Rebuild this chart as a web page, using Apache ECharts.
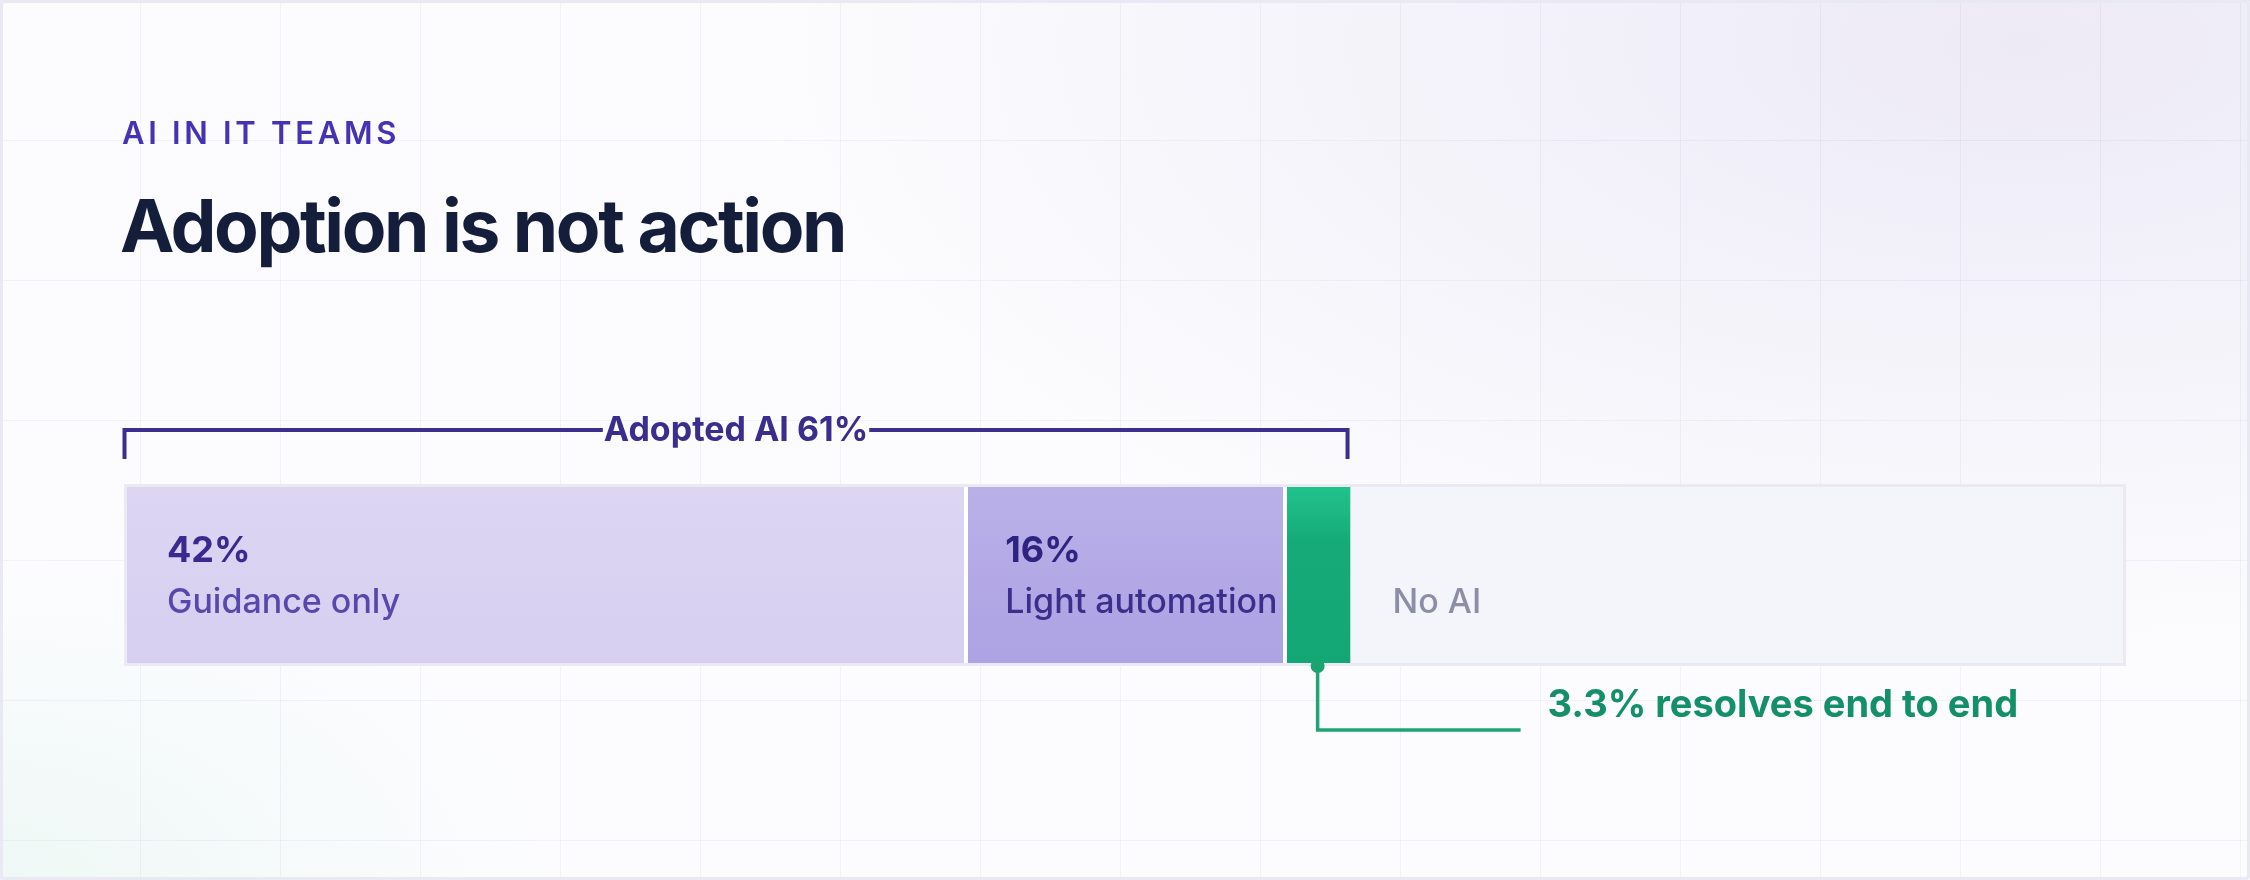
<!DOCTYPE html>
<html>
<head>
<meta charset="utf-8">
<script src="https://cdn.jsdelivr.net/npm/echarts@6/dist/echarts.min.js"></script>
<style>
  html, body { margin:0; padding:0; width:2250px; height:880px; overflow:hidden; }
  body {
    position:relative;
    font-family: Inter, "Noto Sans", sans-serif;
    background:
      linear-gradient(to right, rgba(110,104,160,0.07) 0 1.5px, transparent 1.5px) 0 0 / 140px 140px,
      linear-gradient(to bottom, rgba(110,104,160,0.07) 0 1.5px, transparent 1.5px) 0 0 / 140px 140px,
      radial-gradient(ellipse 1700px 820px at 90% 5%, rgba(236,233,246,0.95), rgba(236,233,246,0) 75%),
      radial-gradient(ellipse 800px 460px at 0% 100%, rgba(228,245,239,0.55), rgba(228,245,239,0) 70%),
      #fcfcfe;
  }
  #frame { position:absolute; left:0; top:0; width:2250px; height:880px; box-sizing:border-box;
           border:3px solid #e9e9f3; border-radius:4px; pointer-events:none; z-index:5; }
  #eyebrow { position:absolute; left:122px; top:117px; font-size:31px; line-height:31px; font-weight:600;
             letter-spacing:3.7px; color:#4633b4; white-space:nowrap; z-index:3; }
  #headline { position:absolute; left:120px; top:189px; font-size:73px; line-height:73px; font-weight:700;
              letter-spacing:-2.4px; color:#141e3a; white-space:nowrap; z-index:3; }
  #chart { position:absolute; left:0; top:0; width:2250px; height:880px; z-index:2; }
</style>
</head>
<body>
<div id="eyebrow">AI IN IT TEAMS</div>
<div id="headline">Adoption is not action</div>
<div id="chart"></div>
<div id="frame"></div>
<script>
// ---- data ----
const categories = ['IT teams'];
const segmentNames = ['Guidance only', 'Light automation', 'Resolves end to end', 'No AI'];
const segmentShares = [42, 16, 3.3, 38.7];
const shareLabels = ['42%', '16%', '3.3%', ''];
const bracketLabel = 'Adopted AI 61%';
const calloutLabel = '3.3% resolves end to end';

// ---- derived ----
const starts = [];
segmentShares.reduce((acc, v, i) => { starts[i] = acc; return acc + v; }, 0);
const adoptedTotal = segmentShares[0] + segmentShares[1] + segmentShares[2];

const FONT = 'Inter, "Noto Sans", sans-serif';
const measure = (() => {
  const c = document.createElement('canvas').getContext('2d');
  return (text, font) => { c.font = font; return c.measureText(text).width; };
})();

const fills = [
  new echarts.graphic.LinearGradient(0, 0, 0, 1, [{offset:0,color:'#dcd6f3'},{offset:1,color:'#d6cff0'}]),
  new echarts.graphic.LinearGradient(0, 0, 0, 1, [{offset:0,color:'#bab0e8'},{offset:1,color:'#ada2e3'}]),
  new echarts.graphic.LinearGradient(0, 0, 0, 1, [{offset:0,color:'#22c28b'},{offset:0.32,color:'#15aa78'},{offset:1,color:'#13a776'}]),
  '#f4f5fa'
];
const valueColors = ['#3a2a8f', '#2f2380', '#ffffff', '#8b8ea6'];
const nameColors = ['#5848ad', '#3b2e8c', '#ffffff', '#8b8ea6'];

function barLabel(i) {
  if (i === 2) return { show:false };
  if (i === 3) {
    return { show:true, position:'insideLeft', distance:42, offset:[0, 28],
             formatter: segmentNames[i], color: nameColors[i], fontFamily: FONT, fontSize:34, fontWeight:500 };
  }
  return {
    show:true, position:'insideLeft', distance:40, offset:[0, 2],
    formatter: '{v|' + shareLabels[i] + '}\n{n|' + segmentNames[i] + '}',
    rich: {
      v: { fontFamily: FONT, fontSize:36, fontWeight:700, color: valueColors[i], lineHeight:51 },
      n: { fontFamily: FONT, fontSize:34, fontWeight:500, color: nameColors[i], lineHeight:52 }
    }
  };
}

const barSeries = segmentNames.map((name, i) => {
  const s = {
    type:'bar', name, stack:'share', data:[segmentShares[i]], barWidth:'100%',
    silent:true, itemStyle:{ color: fills[i] }, label: barLabel(i), z:2
  };
  if (i === 0) {
    s.showBackground = true;
    s.backgroundStyle = { color:'#f4f5fa', borderColor:'#eae9f4', borderWidth:6 };
    s.markLine = {
      silent:true, symbol:'none', label:{ show:false },
      lineStyle:{ color:'#ffffff', width:4, type:'solid' },
      data: [{ xAxis: starts[1] }, { xAxis: starts[2] }]
    };
  }
  return s;
});

const bracketSeries = {
  type:'custom', coordinateSystem:'cartesian2d', silent:true, z:10, clip:false,
  data:[[0, adoptedTotal, 0]], encode:{ x:[0, 1], y:2 },
  renderItem(params, api) {
    const a = api.coord([api.value(0), api.value(2)]);
    const b = api.coord([api.value(1), api.value(2)]);
    const h = api.size([0, 1])[1];
    const top = a[1] - h / 2;
    const x0 = a[0] - 2.5, x1 = b[0] - 3;
    const ly = top - 57, ty = top - 28;
    const cx = (x0 + x1) / 2;
    const font = '700 34px ' + FONT;
    const w = measure(bracketLabel, font);
    const stroke = { stroke:'#3c2e8e', lineWidth:4, fill:null, lineJoin:'miter', lineCap:'butt' };
    return { type:'group', children:[
      { type:'polyline', shape:{ points:[[x0, ty],[x0, ly],[cx - w/2 - 1, ly]] }, style: stroke },
      { type:'polyline', shape:{ points:[[cx + w/2 + 1, ly],[x1, ly],[x1, ty]] }, style: stroke },
      { type:'text', style:{ text: bracketLabel, x: cx, y: ly + 0.5, font, fill:'#3b2d8d',
        align:'center', verticalAlign:'middle', textAlign:'center', textVerticalAlign:'middle' } }
    ]};
  }
};

const calloutSeries = {
  type:'custom', coordinateSystem:'cartesian2d', silent:true, z:10, clip:false,
  data:[[starts[2], segmentShares[2], 0]], encode:{ x:[0, 1], y:2 },
  renderItem(params, api) {
    const c = api.coord([api.value(0) + api.value(1) / 2, api.value(2)]);
    const h = api.size([0, 1])[1];
    const bottom = c[1] + h / 2;
    const x = c[0];
    const font = '700 38px ' + FONT;
    return { type:'group', children:[
      { type:'polyline', shape:{ points:[[x, bottom + 3],[x, bottom + 67],[x + 203, bottom + 67]] },
        style:{ stroke:'#1fa574', lineWidth:3.5, fill:null, lineJoin:'miter', lineCap:'butt' } },
      { type:'circle', shape:{ cx:x, cy:bottom + 3, r:7 }, style:{ fill:'#1ba372' } },
      { type:'text', style:{ text: calloutLabel, x: x + 230, y: bottom + 43, font, fill:'#139066',
        align:'left', verticalAlign:'middle', textAlign:'left', textVerticalAlign:'middle' } }
    ]};
  }
};

const chart = echarts.init(document.getElementById('chart'), null, { renderer:'canvas' });
chart.setOption({
  backgroundColor:'transparent',
  animation:false,
  grid:{ left:127, right:127, top:487, height:176 },
  xAxis:{ type:'value', min:0, max:100, show:false },
  yAxis:{ type:'category', data:categories, show:false },
  tooltip:{ show:false },
  series:[...barSeries, bracketSeries, calloutSeries]
});
</script>
</body>
</html>
